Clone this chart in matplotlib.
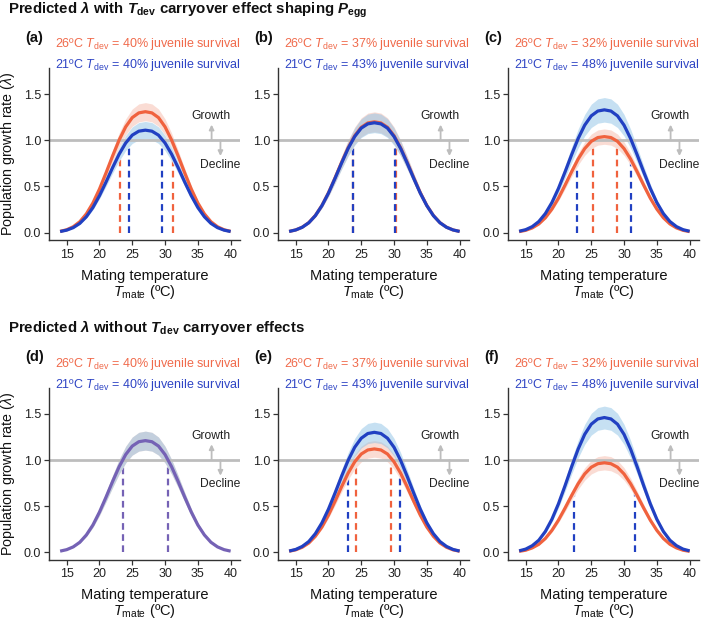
import numpy as np
import matplotlib
matplotlib.use("Agg")
import matplotlib.pyplot as plt

plt.rcParams['font.family'] = ['Liberation Sans', 'DejaVu Sans']
plt.rcParams['mathtext.fontset'] = 'custom'
plt.rcParams['mathtext.rm'] = 'Liberation Sans'
plt.rcParams['mathtext.it'] = 'Liberation Sans:italic'
plt.rcParams['mathtext.bf'] = 'Liberation Sans:bold'
plt.rcParams['mathtext.bfit'] = 'Liberation Sans:italic:bold'

# ---------------- data ----------------
t_mate = [14, 15, 16, 17, 18, 19, 20, 21, 22, 23, 24, 25, 26, 27,
          28, 29, 30, 31, 32, 33, 34, 35, 36, 37, 38, 39, 40]

a_red = [0.014, 0.031, 0.064, 0.118, 0.203, 0.321, 0.472, 0.647, 0.830, 1.003, 1.146, 1.246, 1.297, 1.310,
         1.297, 1.246, 1.146, 1.003, 0.830, 0.647, 0.472, 0.321, 0.203, 0.118, 0.064, 0.031, 0.014]
a_blue = [0.012, 0.027, 0.054, 0.100, 0.172, 0.272, 0.400, 0.548, 0.704, 0.850, 0.971, 1.056, 1.099, 1.110,
          1.099, 1.056, 0.971, 0.850, 0.704, 0.548, 0.400, 0.272, 0.172, 0.100, 0.054, 0.027, 0.012]
b_red = [0.013, 0.029, 0.059, 0.108, 0.186, 0.294, 0.432, 0.593, 0.761, 0.919, 1.050, 1.141, 1.188, 1.200,
         1.188, 1.141, 1.050, 0.919, 0.761, 0.593, 0.432, 0.294, 0.186, 0.108, 0.059, 0.029, 0.013]
b_blue = [0.013, 0.029, 0.058, 0.107, 0.184, 0.292, 0.428, 0.588, 0.754, 0.912, 1.041, 1.132, 1.178, 1.190,
          1.178, 1.132, 1.041, 0.912, 0.754, 0.588, 0.428, 0.292, 0.184, 0.107, 0.058, 0.029, 0.013]
c_red = [0.011, 0.025, 0.051, 0.094, 0.161, 0.255, 0.374, 0.514, 0.659, 0.797, 0.910, 0.989, 1.030, 1.040,
         1.030, 0.989, 0.910, 0.797, 0.659, 0.514, 0.374, 0.255, 0.161, 0.094, 0.051, 0.025, 0.011]
c_blue = [0.015, 0.032, 0.065, 0.120, 0.206, 0.326, 0.479, 0.657, 0.843, 1.019, 1.164, 1.265, 1.317, 1.330,
          1.317, 1.265, 1.164, 1.019, 0.843, 0.657, 0.479, 0.326, 0.206, 0.120, 0.065, 0.032, 0.015]
d_both = [0.013, 0.029, 0.059, 0.109, 0.188, 0.296, 0.436, 0.598, 0.767, 0.927, 1.059, 1.151, 1.198, 1.210,
          1.198, 1.151, 1.059, 0.927, 0.767, 0.598, 0.436, 0.296, 0.188, 0.109, 0.059, 0.029, 0.013]
e_red = [0.012, 0.027, 0.055, 0.101, 0.174, 0.274, 0.403, 0.553, 0.710, 0.858, 0.980, 1.065, 1.109, 1.120,
         1.109, 1.065, 0.980, 0.858, 0.710, 0.553, 0.403, 0.274, 0.174, 0.101, 0.055, 0.027, 0.012]
e_blue = [0.014, 0.031, 0.064, 0.117, 0.202, 0.319, 0.468, 0.642, 0.824, 0.996, 1.138, 1.236, 1.287, 1.300,
          1.287, 1.236, 1.138, 0.996, 0.824, 0.642, 0.468, 0.319, 0.202, 0.117, 0.064, 0.031, 0.014]
f_red = [0.011, 0.023, 0.048, 0.087, 0.150, 0.238, 0.349, 0.479, 0.615, 0.743, 0.849, 0.922, 0.960, 0.970,
         0.960, 0.922, 0.849, 0.743, 0.615, 0.479, 0.349, 0.238, 0.150, 0.087, 0.048, 0.023, 0.011]
f_blue = [0.016, 0.035, 0.072, 0.131, 0.226, 0.358, 0.526, 0.721, 0.926, 1.118, 1.278, 1.388, 1.445, 1.460,
          1.445, 1.388, 1.278, 1.118, 0.926, 0.721, 0.526, 0.358, 0.226, 0.131, 0.072, 0.035, 0.016]

# relative half-width of the confidence ribbons (red, blue)
band_rel = {'a': (0.075, 0.085), 'b': (0.09, 0.09), 'c': (0.08, 0.10),
            'd': (0.085, 0.085), 'e': (0.08, 0.085), 'f': (0.08, 0.085)}

# temperatures where lambda crosses 1 (dashed lines)
cross_red = {'a': [23.1, 31.2], 'b': [23.8, 30.3], 'c': [25.2, 28.9],
             'd': [23.6, 30.5], 'e': [24.2, 29.6], 'f': []}
cross_blue = {'a': [24.5, 29.6], 'b': [23.7, 30.2], 'c': [22.9, 31.1],
              'd': [23.6, 30.5], 'e': [23.0, 30.9], 'f': [22.3, 31.6]}

surv_26 = {'a': 40, 'b': 37, 'c': 32, 'd': 40, 'e': 37, 'f': 32}
surv_21 = {'a': 40, 'b': 43, 'c': 48, 'd': 40, 'e': 43, 'f': 48}

series = {'a': (a_red, a_blue), 'b': (b_red, b_blue), 'c': (c_red, c_blue),
          'd': (d_both, d_both), 'e': (e_red, e_blue), 'f': (f_red, f_blue)}

titles = [r"Predicted $\mathbfit{\lambda}$ with $\mathbfit{T}_{\mathbf{dev}}$ carryover effect shaping $\mathbfit{P}_{\mathbf{egg}}$",
          r"Predicted $\mathbfit{\lambda}$ without $\mathbfit{T}_{\mathbf{dev}}$ carryover effects"]

# ---------------- style ----------------
RED = '#f0623e'
BLUE = '#2140c2'
PURPLE = '#7562b5'
RED_TXT = '#f06a4b'
BLUE_TXT = '#2e44c4'
RIB_RED = '#f4a590'
RIB_BLUE = '#8ec3e6'
GRAY = '#bdbdbd'
AX = '#333333'

W, H = 709, 622
fig = plt.figure(figsize=(W / 100, H / 100), dpi=100)

lefts = [49.3, 278.3, 508.3]
tops = [68.3, 388.0]
aw, ah = 190.5, 172.0

x = np.array(t_mate, dtype=float)
panels = ['a', 'b', 'c', 'd', 'e', 'f']
for i, p in enumerate(panels):
    r, c = divmod(i, 3)
    ax = fig.add_axes([lefts[c] / W, (H - tops[r] - ah) / H, aw / W, ah / H])
    red = np.array(series[p][0])
    blue = np.array(series[p][1])
    rr, rb = band_rel[p]
    red_lo, red_hi = red * (1 - rr), red * (1 + rr)
    blue_lo, blue_hi = blue * (1 - rb), blue * (1 + rb)

    # dashed crossing lines (under ribbons)
    if p == 'd':
        ax.vlines(cross_blue[p], 0, 1, colors=PURPLE, linestyles=(0, (3, 2)), lw=1.6, zorder=1.5)
    else:
        ax.vlines(cross_red[p], 0, 1, colors=RED, linestyles=(0, (3, 2)), lw=1.6, zorder=1.5)
        ax.vlines(cross_blue[p], 0, 1, colors=BLUE, linestyles=(0, (3, 2)), lw=1.6, zorder=1.6)

    # white mask then ribbons
    ax.fill_between(x, np.minimum(red_lo, blue_lo), np.maximum(red_hi, blue_hi),
                    color='white', lw=0, zorder=2)
    ax.fill_between(x, red_lo, red_hi, color=RIB_RED, alpha=0.38, lw=0, zorder=2.1)
    ax.fill_between(x, blue_lo, blue_hi, color=RIB_BLUE, alpha=0.5, lw=0, zorder=2.2)

    ax.axhline(1.0, color=GRAY, lw=2.0, zorder=2.5)

    if p == 'd':
        ax.plot(x, red, color=PURPLE, lw=2.3, zorder=3, solid_capstyle='butt')
    else:
        ax.plot(x, red, color=RED, lw=2.3, zorder=3, solid_capstyle='butt')
        ax.plot(x, blue, color=BLUE, lw=2.3, zorder=3.1, solid_capstyle='butt')

    # growth / decline arrows
    ax.annotate('', xy=(37.1, 1.17), xytext=(37.1, 1.0),
                arrowprops=dict(arrowstyle='-|>', color=GRAY, lw=1.3, mutation_scale=7,
                                shrinkA=0, shrinkB=0), zorder=2.6)
    ax.annotate('', xy=(38.45, 0.83), xytext=(38.45, 1.0),
                arrowprops=dict(arrowstyle='-|>', color=GRAY, lw=1.3, mutation_scale=7,
                                shrinkA=0, shrinkB=0), zorder=2.6)
    ax.text(37.05, 1.23, 'Growth', ha='center', va='baseline', fontsize=8.7, color='#222222')
    ax.text(38.4, 0.705, 'Decline', ha='center', va='baseline', fontsize=8.7, color='#222222')

    ax.set_xlim(12.35, 41.4)
    ax.set_ylim(-0.083, 1.78)
    ax.set_xticks([15, 20, 25, 30, 35, 40])
    ax.set_yticks([0.0, 0.5, 1.0, 1.5])
    ax.set_yticklabels(['0.0', '0.5', '1.0', '1.5'])
    for s in ['top', 'right']:
        ax.spines[s].set_visible(False)
    for s in ['left', 'bottom']:
        ax.spines[s].set_color(AX)
        ax.spines[s].set_linewidth(1.0)
    ax.tick_params(direction='out', length=3.5, width=0.9, color=AX, labelsize=9,
                   labelcolor='#222222', pad=2.5)

    # x labels
    ax.text(0.5, -0.228, 'Mating temperature', transform=ax.transAxes, ha='center',
            va='baseline', fontsize=10.5, color='#111111')
    ax.text(0.5, -0.322, r'$T_{\mathrm{mate}}$ (ºC)', transform=ax.transAxes, ha='center',
            va='baseline', fontsize=10.5, color='#111111')

    # panel legends
    ax.text(1.0, 1.124, r'26ºC $T_{\mathrm{dev}}$ = %d%% juvenile survival' % surv_26[p],
            transform=ax.transAxes, ha='right', va='baseline', fontsize=9, color=RED_TXT)
    ax.text(1.0, 1.0, r'21ºC $T_{\mathrm{dev}}$ = %d%% juvenile survival' % surv_21[p],
            transform=ax.transAxes, ha='right', va='baseline', fontsize=9, color=BLUE_TXT)
    ax.text(-0.128, 1.155, '(%s)' % p, transform=ax.transAxes, ha='left', va='baseline',
            fontsize=10.5, fontweight='bold', color='#111111')

    if c == 0:
        fig.text(8.5 / W, 1 - (tops[r] + ah / 2) / H, r'Population growth rate ($\lambda$)',
                 rotation=90, ha='center', va='center', fontsize=10.3, color='#111111')

fig.text(8 / W, 1 - 14 / H, titles[0], ha='left', va='baseline', fontsize=10.8,
         fontweight='bold', color='#111111')
fig.text(8 / W, 1 - 332 / H, titles[1], ha='left', va='baseline', fontsize=10.8,
         fontweight='bold', color='#111111')

fig.savefig('out.png', dpi=100)
